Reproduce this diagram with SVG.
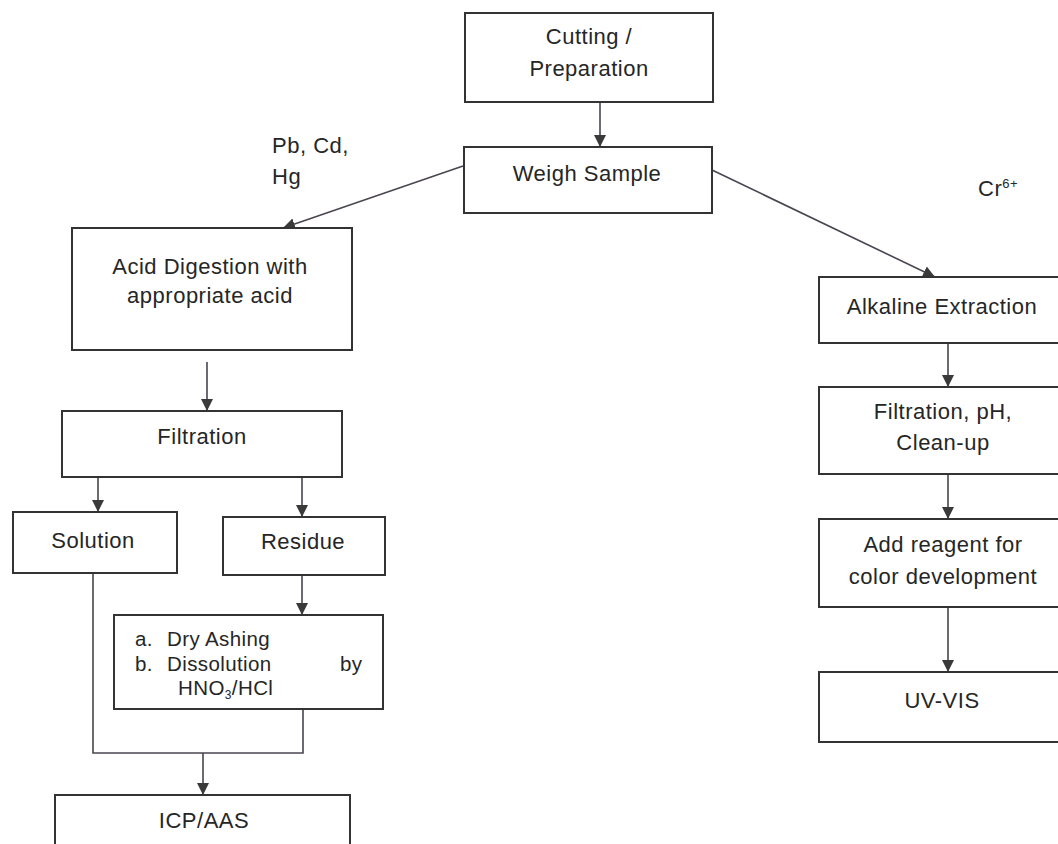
<svg xmlns="http://www.w3.org/2000/svg" width="1058" height="844" viewBox="0 0 1058 844">
<defs>
<marker id="arr" markerUnits="userSpaceOnUse" markerWidth="14" markerHeight="14" refX="12" refY="7" orient="auto">
<path d="M0,1 L12,7 L0,13 z" fill="#3a3a3a"/>
</marker>
<style>
.box{fill:#fff;stroke:#333;stroke-width:2}
.t{font-family:"Liberation Sans",Arial,sans-serif;font-size:22px;letter-spacing:0.5px;fill:#262626}
.s{font-size:20.5px;letter-spacing:0.4px}
.c{text-anchor:middle}
.ln{stroke:#4a4550;stroke-width:1.6;fill:none}
</style>
</defs>
<rect width="1058" height="844" fill="#fff"/>
<g id="connectors">
<line class="ln" x1="600" y1="103" x2="600" y2="147" marker-end="url(#arr)"/>
<line class="ln" x1="463" y1="166" x2="283" y2="228" marker-end="url(#arr)"/>
<line class="ln" x1="712" y1="170" x2="935" y2="277" marker-end="url(#arr)"/>
<line class="ln" x1="207" y1="362" x2="207" y2="411" marker-end="url(#arr)"/>
<line class="ln" x1="98" y1="478" x2="98" y2="512" marker-end="url(#arr)"/>
<line class="ln" x1="302" y1="478" x2="302" y2="517" marker-end="url(#arr)"/>
<line class="ln" x1="302" y1="576" x2="302" y2="615" marker-end="url(#arr)"/>
<path class="ln" d="M93,574 V753 H303 V709"/>
<line class="ln" x1="203" y1="753" x2="203" y2="795" marker-end="url(#arr)"/>
<line class="ln" x1="948" y1="344" x2="948" y2="387" marker-end="url(#arr)"/>
<line class="ln" x1="948" y1="475" x2="948" y2="519" marker-end="url(#arr)"/>
<line class="ln" x1="948" y1="608" x2="948" y2="672" marker-end="url(#arr)"/>
</g>
<g id="cutting">
<rect class="box" x="465" y="13" width="248" height="89"/>
<text class="t c" x="589" y="44">Cutting /</text>
<text class="t c" x="589" y="76">Preparation</text>
</g>
<g id="weigh">
<rect class="box" x="464" y="147" width="248" height="66"/>
<text class="t c" x="587" y="181">Weigh Sample</text>
</g>
<g id="label-pb">
<text class="t" x="272" y="153">Pb, Cd,</text>
<text class="t" x="272" y="184">Hg</text>
</g>
<g id="label-cr">
<text class="t" x="978" y="196">Cr<tspan font-size="13" dy="-8">6+</tspan></text>
</g>
<g id="acid">
<rect class="box" x="72" y="228" width="280" height="122"/>
<text class="t c" x="210" y="274">Acid Digestion with</text>
<text class="t c" x="210" y="303">appropriate acid</text>
</g>
<g id="filtration">
<rect class="box" x="62" y="411" width="280" height="66"/>
<text class="t c" x="202" y="444">Filtration</text>
</g>
<g id="solution">
<rect class="box" x="13" y="512" width="164" height="61"/>
<text class="t c" x="93" y="548">Solution</text>
</g>
<g id="residue">
<rect class="box" x="223" y="517" width="162" height="58"/>
<text class="t c" x="303" y="549">Residue</text>
</g>
<g id="dryashing">
<rect class="box" x="114" y="615" width="269" height="94"/>
<text class="t s" x="135" y="646">a.</text>
<text class="t s" x="167" y="646">Dry Ashing</text>
<text class="t s" x="135" y="671">b.</text>
<text class="t s" x="167" y="671">Dissolution</text>
<text class="t s" x="340" y="671">by</text>
<text class="t s" x="178" y="695">HNO<tspan font-size="12" dy="4">3</tspan><tspan dy="-4">/HCl</tspan></text>
</g>
<g id="icp">
<rect class="box" x="55" y="795" width="295" height="60"/>
<text class="t c" x="204" y="828">ICP/AAS</text>
</g>
<g id="alkaline">
<rect class="box" x="819" y="277" width="250" height="66"/>
<text class="t c" x="942" y="314">Alkaline Extraction</text>
</g>
<g id="filtph">
<rect class="box" x="819" y="387" width="250" height="87"/>
<text class="t c" x="943" y="419">Filtration, pH,</text>
<text class="t c" x="943" y="450">Clean-up</text>
</g>
<g id="reagent">
<rect class="box" x="819" y="519" width="250" height="88"/>
<text class="t c" x="943" y="552">Add reagent for</text>
<text class="t c" x="943" y="584">color development</text>
</g>
<g id="uvvis">
<rect class="box" x="819" y="672" width="250" height="70"/>
<text class="t c" x="942" y="708">UV-VIS</text>
</g>
</svg>
